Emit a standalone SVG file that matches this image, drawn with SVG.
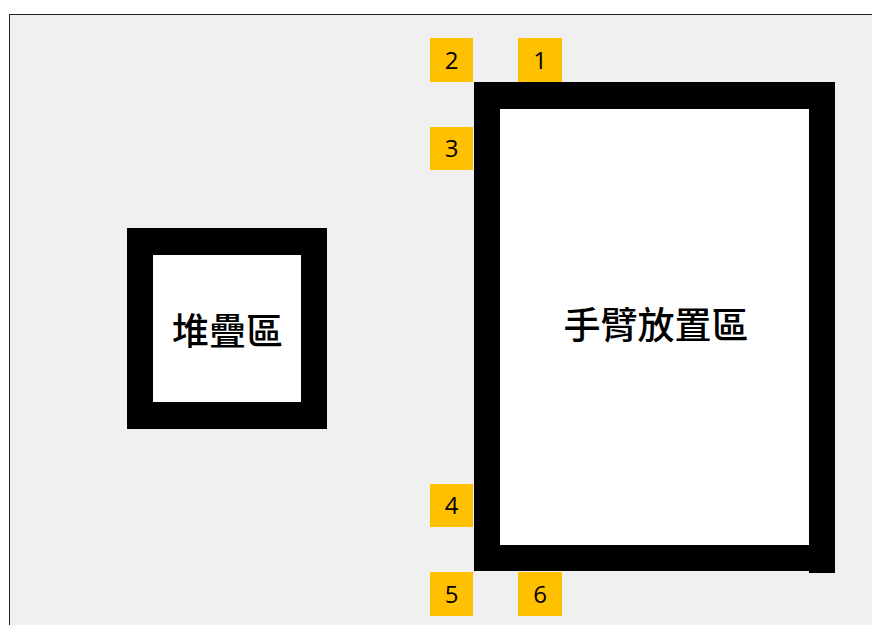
<svg xmlns="http://www.w3.org/2000/svg" width="872" height="625" viewBox="0 0 872 625">
<style>
.tag{fill:#FFC000}
.num{font-family:"Open Sans","Liberation Sans",sans-serif;font-size:24px;fill:#000;text-anchor:middle;dominant-baseline:central}
.zone{font-family:"Noto Sans CJK TC","Noto Sans CJK SC",sans-serif;font-size:37px;font-weight:500;fill:#000;text-anchor:middle;dominant-baseline:central}
</style>
<rect x="0" y="0" width="872" height="625" fill="#ffffff"/>
<rect x="9.5" y="14.5" width="870" height="620" fill="#f0f0f0" stroke="#222" stroke-width="1"/>
<g id="stack-zone">
<rect x="127" y="228" width="200" height="201" fill="#000"/>
<rect x="153" y="255" width="148" height="147" fill="#fff"/>
<text class="zone" x="227.5" y="329">堆疊區</text>
</g>
<g id="arm-zone">
<rect x="474" y="82" width="361" height="489" fill="#000"/>
<rect x="809" y="82" width="26" height="491" fill="#000"/>
<rect x="500" y="109" width="309" height="436" fill="#fff"/>
<text class="zone" x="656" y="323">手臂放置區</text>
</g>
<g id="p1"><rect class="tag" x="518" y="38" width="44" height="44"/><text class="num" x="540" y="59">1</text></g>
<g id="p2"><rect class="tag" x="430" y="38" width="43" height="44"/><text class="num" x="451.5" y="59">2</text></g>
<g id="p3"><rect class="tag" x="430" y="127" width="43" height="43"/><text class="num" x="451.5" y="147.5">3</text></g>
<g id="p4"><rect class="tag" x="430" y="484" width="43" height="43"/><text class="num" x="451.5" y="504.5">4</text></g>
<g id="p5"><rect class="tag" x="430" y="572" width="43" height="44"/><text class="num" x="451.5" y="593">5</text></g>
<g id="p6"><rect class="tag" x="518" y="572" width="44" height="44"/><text class="num" x="540" y="593">6</text></g>
<g id="connectors"></g>
</svg>
